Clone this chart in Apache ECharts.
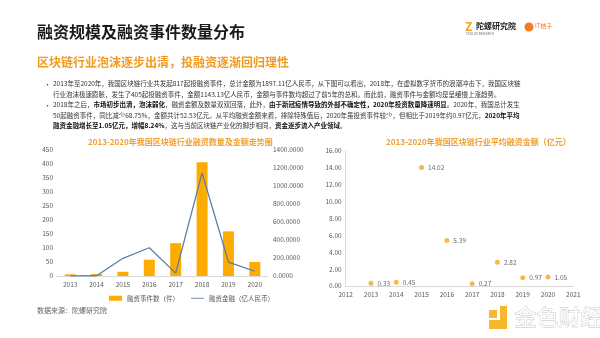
<!DOCTYPE html>
<html><head><meta charset="utf-8">
<script src="https://cdn.jsdelivr.net/npm/echarts@6/dist/echarts.min.js"></script>
<style>html,body{margin:0;padding:0;background:#fff}#c{width:600px;height:338px}</style>
</head><body><div id="c"></div>
<script>
const years = ['2013','2014','2015','2016','2017','2018','2019','2020'];
const eventCounts = [6, 7, 15, 58, 117, 405, 159, 50];
const amounts = [2, 3, 196, 313, 32, 1143.13, 155, 52.53];
const avgYears = [2013, 2014, 2015, 2016, 2017, 2018, 2019, 2020];
const avgAmounts = [0.33, 0.45, 14.02, 5.39, 0.27, 2.82, 0.97, 1.05];
const leftTicks = {min: 0, max: 450, interval: 50};
const rightTicks = {min: 0, max: 1400, interval: 200};
const avgTicks = {min: 0, max: 16, interval: 2};
const avgXTicks = {min: 2012, max: 2021, interval: 1};

const F = '"Noto Sans CJK SC", "Noto Sans", sans-serif';
const chart = echarts.init(document.getElementById('c'));
const gray = '#595959';
const orange = '#FFAC00';

const body = [
  '2013年至2020年，我国区块链行业共发起817起投融资事件，总计金额为1897.11亿人民币，从下图可以看出，2018年，在虚拟数字货币的浪潮冲击下，我国区块链',
  '行业泡沫极速膨胀，发生了405起投融资事件，金额1143.13亿人民币，金额与事件数均超过了前5年的总和。而此前，融资事件与金额均是呈缓慢上涨趋势。',
  '2018年之后，{b|市场初步出清，泡沫弱化}，融资金额及数量双双回落，此外，{b|由于新冠疫情导致的外部不确定性，2020年投资数量降速明显}。2020年，我国总计发生',
  '50起融资事件，同比减少68.75%，金额共计52.53亿元。从平均融资金额来看，排除特殊值后，2020年虽投资事件较少，但相比于2019年约0.97亿元，{b|2020年平均}',
  '{b|融资金融增长至1.05亿元，增幅8.24%}，这与当前区块链产业化的脚步相同，{b|资金逐步流入产业领域}。'
];
const bodyTops = [80.5, 91, 101.5, 112, 122.5];
const graphics = [
  {type:'text', left:37, top:24, style:{text:'融资规模及融资事件数量分布', font:'bold 16px '+F, fill:'#1a1a1a'}},
  {type:'text', left:37, top:56, style:{text:'区块链行业泡沫逐步出清，投融资逐渐回归理性', font:'bold 12px '+F, fill:'#F29A1F'}},
  {type:'text', left:465, top:20, style:{text:'Z', font:'bold 12px '+F, fill:'#F5A11C'}},
  {type:'text', left:476, top:22, style:{text:'陀螺研究院', font:'bold 8px '+F, fill:'#222'}},
  {type:'text', left:466, top:32, style:{text:'TUOLUO RESEARCH', font:'3px '+F, fill:'#666'}},
  {type:'circle', shape:{cx:529, cy:27, r:4.5}, style:{fill:'#F47B20'}},
  {type:'text', left:535, top:23, style:{text:'IT桔子', font:'6px '+F, fill:'#F47B20'}},
  {type:'text', left:37, top:307, style:{text:'数据来源：陀螺研究院', font:'7px '+F, fill:'#666'}},
  {type:'text', left:88, top:138, style:{text:'2013-2020年我国区块链行业融资数量及金额走势图', font:'bold 8px '+F, fill:'#F0A02E'}},
  {type:'text', left:386, top:138, style:{text:'2013-2020年我国区块链行业平均融资金额（亿元）', font:'bold 8px '+F, fill:'#F0A02E'}},
  {type:'rect', shape:{x:489, y:310, width:8, height:8}, style:{fill:'#F5B82E'}},
  {type:'rect', shape:{x:489, y:320, width:18, height:9}, style:{fill:'#F5B82E'}},
  {type:'rect', shape:{x:500, y:306, width:7, height:14}, style:{fill:'#F5B82E'}},
  {type:'text', left:514, top:305, style:{text:'金色财经', font:'22px '+F, fill:'#fff', stroke:'#bdbdbd', lineWidth:0.8}}
];
body.forEach((t,i)=>{
  if (i===0 || i===2) graphics.push({type:'text', left:44, top:bodyTops[i], style:{text:'•', font:'7px '+F, fill:'#333'}});
  graphics.push({type:'text', left:53, top:bodyTops[i], style:{text:t, font:'6.5px '+F, fill:'#333', rich:{b:{font:'bold 6.5px '+F, fill:'#111'}}}});
});

chart.setOption({
  animation:false,
  textStyle:{fontFamily:F},
  graphic: graphics,
  legend:{
    left:104, top:290, itemWidth:13, itemHeight:5, itemGap:12,
    textStyle:{fontSize:6.5, color:gray, fontFamily:F},
    data:[{name:'融资事件数（件）', icon:'rect'}, {name:'融资金融（亿人民币）', icon:'path://M0,0H30V2H0Z'}]
  },
  grid:[
    {left:57, top:149.7, width:211, height:126.3, containLabel:false},
    {left:345.7, top:150.7, width:227.6, height:135.3, containLabel:false}
  ],
  xAxis:[
    {type:'category', gridIndex:0, data:years, axisTick:{show:false},
     axisLine:{lineStyle:{color:'#d9d9d9'}}, axisLabel:{fontSize:6.5, color:gray, margin:5}},
    {type:'value', gridIndex:1, min:avgXTicks.min, max:avgXTicks.max, interval:avgXTicks.interval,
     splitLine:{show:false}, axisTick:{show:false}, axisLine:{show:true, lineStyle:{color:'#d9d9d9'}},
     axisLabel:{fontSize:6.5, color:gray, margin:5, formatter:v=>String(v)}}
  ],
  yAxis:[
    {type:'value', gridIndex:0, min:leftTicks.min, max:leftTicks.max, interval:leftTicks.interval,
     splitLine:{show:false}, axisLine:{show:false}, axisTick:{show:false},
     axisLabel:{fontSize:6.5, color:gray, margin:4}},
    {type:'value', gridIndex:0, position:'right', min:rightTicks.min, max:rightTicks.max, interval:rightTicks.interval,
     splitLine:{show:false}, axisLine:{show:false}, axisTick:{show:false},
     axisLabel:{fontSize:6.5, color:gray, margin:5, formatter:v=>v.toFixed(4)}},
    {type:'value', gridIndex:1, min:avgTicks.min, max:avgTicks.max, interval:avgTicks.interval,
     splitLine:{show:false}, axisLine:{show:true, lineStyle:{color:'#d9d9d9'}}, axisTick:{show:false},
     axisLabel:{fontSize:6.5, color:gray, margin:4, formatter:v=>v.toFixed(2)}}
  ],
  series:[
    {name:'融资事件数（件）', type:'bar', xAxisIndex:0, yAxisIndex:0, data:eventCounts, barWidth:11,
     itemStyle:{color:orange}},
    {name:'融资金融（亿人民币）', type:'line', xAxisIndex:0, yAxisIndex:1, data:amounts, symbol:'none',
     lineStyle:{color:'#5B7DA6', width:1.3}, itemStyle:{color:'#5B7DA6'}},
    {name:'平均融资金额', type:'scatter', xAxisIndex:1, yAxisIndex:2, symbolSize:5,
     data:avgYears.map((y,i)=>[y, avgAmounts[i]]),
     itemStyle:{color:'#F5A623'},
     label:{show:true, position:'right', distance:4, fontSize:6.5, color:'#444', formatter:p=>p.value[1].toFixed(2)}}
  ]
});
</script></body></html>
